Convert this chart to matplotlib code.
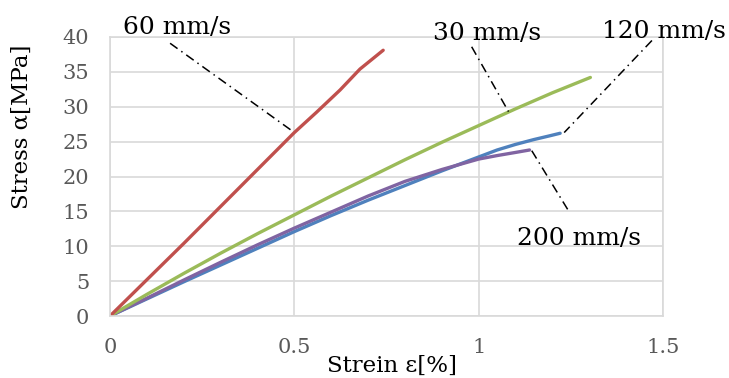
import matplotlib
matplotlib.use("Agg")
import matplotlib.pyplot as plt

# strain [%] / stress [MPa]
strain_30 = [0, 0.1, 0.2, 0.3, 0.4, 0.5, 0.6, 0.7, 0.8, 0.9, 1.0, 1.05, 1.1, 1.15, 1.19, 1.221]
stress_30 = [0, 2.45, 4.9, 7.3, 9.7, 12.1, 14.4, 16.6, 18.7, 20.8, 22.8, 23.8, 24.6, 25.3, 25.8, 26.2]

strain_60 = [0, 0.1, 0.2, 0.3, 0.4, 0.5, 0.56, 0.624, 0.678, 0.741]
stress_60 = [0, 5.2, 10.4, 15.7, 21.0, 26.3, 29.2, 32.4, 35.4, 38.1]

strain_120 = [0, 0.1, 0.2, 0.3, 0.4, 0.5, 0.6, 0.7, 0.8, 0.9, 1.0, 1.1, 1.2, 1.303]
stress_120 = [0, 3.1, 6.1, 9.0, 11.8, 14.5, 17.2, 19.8, 22.4, 24.9, 27.3, 29.7, 32.0, 34.2]

strain_200 = [0, 0.1, 0.2, 0.3, 0.4, 0.5, 0.6, 0.7, 0.8, 0.9, 1.0, 1.05, 1.1, 1.138]
stress_200 = [0, 2.55, 5.15, 7.7, 10.2, 12.6, 14.9, 17.2, 19.3, 21.0, 22.5, 23.0, 23.45, 23.8]

# label text, text anchor, leader line start/end
labels = ["60 mm/s", "30 mm/s", "120 mm/s", "200 mm/s"]
label_pos = [(0.035, 40.5), (0.877, 39.6), (1.334, 39.8), (1.104, 10.2)]
leader_x = [(0.163, 0.495), (0.981, 1.081), (1.470, 1.232), (1.144, 1.247)]
leader_y = [(39.1, 26.5), (38.6, 29.3), (39.5, 26.3), (23.7, 14.8)]

serif = "DejaVu Serif"
plt.rcParams["font.family"] = serif

fig = plt.figure(figsize=(7.29, 3.78), dpi=100)
ax = fig.add_axes([110 / 729, 62 / 378, 553 / 729, 279 / 378])

lw = 2.4
ax.plot(strain_30, stress_30, color="#4F81BD", lw=lw, solid_capstyle="round")
ax.plot(strain_200, stress_200, color="#8064A2", lw=lw, solid_capstyle="round")
ax.plot(strain_120, stress_120, color="#9BBB59", lw=lw, solid_capstyle="round")
ax.plot(strain_60, stress_60, color="#C0504D", lw=lw, solid_capstyle="round")

for txt, (tx, ty), lx, ly in zip(labels, label_pos, leader_x, leader_y):
    ax.plot(lx, ly, color="black", lw=1.1, linestyle=(0, (6, 3, 1, 3)), clip_on=False)
    ax.text(tx, ty, txt, fontsize=18, ha="left", va="baseline", clip_on=False)

ax.set_xlim(0, 1.5)
ax.set_ylim(0, 40)
ax.set_xticks([0, 0.5, 1, 1.5])
ax.set_xticklabels(["0", "0.5", "1", "1.5"])
ax.set_yticks(range(0, 41, 5))
ax.grid(True, color="#d9d9d9", lw=1.2)
ax.set_axisbelow(True)
for s in ax.spines.values():
    s.set_color("#d9d9d9")
    s.set_linewidth(1.2)
ax.tick_params(length=0, labelsize=15, labelcolor="#595959")
ax.tick_params(axis="x", pad=16)
ax.tick_params(axis="y", pad=15)

fig.text(22 / 729, 1 - 127 / 378, "Stress α[MPa]", rotation=90, fontsize=16.5,
         ha="center", va="center")
fig.text(392 / 729, 1 - 366 / 378, "Strein ε[%]", fontsize=16.5,
         ha="center", va="center")

fig.savefig("out.png", dpi=100)
